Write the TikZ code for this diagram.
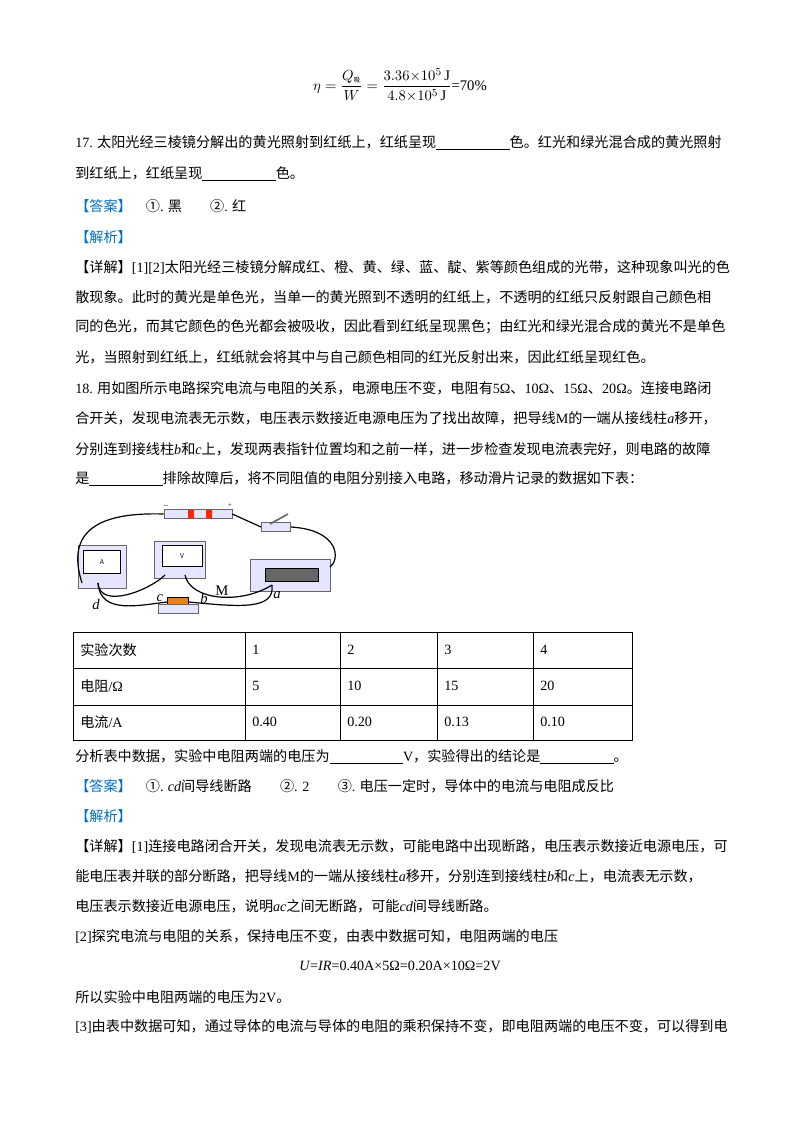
\documentclass[tikz,border=0pt]{standalone}
\usepackage{amsmath}
\usepackage{fontspec}
\setmainfont{Liberation Serif}
\newfontfamily\cjk{Noto Sans CJK SC}
\newcommand\R[1]{{\rmfamily #1}}
\newcommand\RI[1]{{\rmfamily\itshape #1}}
\begin{document}
\begin{tikzpicture}[x=0.75pt,y=-0.75pt,font=\cjk\fontsize{10.6}{12}\selectfont]
\tikzset{ln/.style={anchor=west,inner sep=0pt},
 dev/.style={draw=black!60,fill=blue!10,line width=0.4pt},
 wire/.style={line width=0.9pt},
 lab/.style={font=\rmfamily\fontsize{11}{12}\selectfont\itshape,inner sep=0pt}}
\definecolor{ans}{RGB}{0,112,192}
\useasboundingbox (0,0) rectangle (800,1132);
\fill[white] (0,0) rectangle (800,1132);
\node[inner sep=0pt] (f1) at (400,85) {\rmfamily\fontsize{11}{12}\selectfont $\eta=\dfrac{Q_{\text{\cjk\tiny 吸}}}{W}=\dfrac{3.36{\times}10^5\,\mathrm{J}}{4.8{\times}10^5\,\mathrm{J}}$=70\%};
\node[ln] (l1) at (75,143) {\R{17.} 太阳光经三棱镜分解出的黄光照射到红纸上，红纸呈现\underline{\hspace{55pt}}色。红光和绿光混合成的黄光照射};
\node[ln] (l2) at (75,174) {到红纸上，红纸呈现\underline{\hspace{55pt}}色。};
\node[ln] (l3) at (75,206) {\textcolor{ans}{【答案】}\quad ①\R{.} 黑\qquad ②\R{.} 红};
\node[ln] (l4) at (75,237) {\textcolor{ans}{【解析】}};
\node[ln] (l5) at (75,267) {【详解】\R{[1][2]}太阳光经三棱镜分解成红、橙、黄、绿、蓝、靛、紫等颜色组成的光带，这种现象叫光的色};
\node[ln] (l6) at (75,297) {散现象。此时的黄光是单色光，当单一的黄光照到不透明的红纸上，不透明的红纸只反射跟自己颜色相};
\node[ln] (l7) at (75,327) {同的色光，而其它颜色的色光都会被吸收，因此看到红纸呈现黑色；由红光和绿光混合成的黄光不是单色};
\node[ln] (l8) at (75,357) {光，当照射到红纸上，红纸就会将其中与自己颜色相同的红光反射出来，因此红纸呈现红色。};
\node[ln] (l9) at (75,388) {\R{18.} 用如图所示电路探究电流与电阻的关系，电源电压不变，电阻有\R{5Ω}、\R{10Ω}、\R{15Ω}、\R{20Ω}。连接电路闭};
\node[ln] (l10) at (75,418) {合开关，发现电流表无示数，电压表示数接近电源电压为了找出故障，把导线\R{M}的一端从接线柱\RI{a}移开，};
\node[ln] (l11) at (75,449) {分别连到接线柱\RI{b}和\RI{c}上，发现两表指针位置均和之前一样，进一步检查发现电流表完好，则电路的故障};
\node[ln] (l12) at (75,479) {是\underline{\hspace{55pt}}排除故障后，将不同阻值的电阻分别接入电路，移动滑片记录的数据如下表：};
% circuit
\node[dev,minimum width=51,minimum height=6] (bat) at (198,514) {};
\fill[red!70!orange] (188,510) rectangle (194,518) (206,510) rectangle (212,518);
\node[font=\tiny,inner sep=0] (bm) at (166,506) {$-$};
\node[font=\tiny,inner sep=0] (bp) at (230,506) {+};
\node[dev,minimum width=22,minimum height=5] (sw) at (276,527) {};
\draw[line width=1.2pt,black!60] (270,524) -- (288,514);
\node[dev,minimum width=36,minimum height=32] (am) at (102,567) {};
\node[draw,fill=white,minimum width=28,minimum height=17,inner sep=0] (amf) at (102,562) {\tiny A};
\node[dev,minimum width=38,minimum height=28] (vm) at (180,560) {};
\node[draw,fill=white,minimum width=30,minimum height=16,inner sep=0] (vmf) at (182,556) {\tiny V};
\node[dev,minimum width=60,minimum height=24] (rh) at (290,575) {};
\node[draw,fill=black!60,minimum width=40,minimum height=10] (coil) at (292,575) {};
\node[draw,fill=orange!70!brown,minimum width=16,minimum height=5] (res) at (178,602) {};
\node[dev,minimum width=30,minimum height=4] (resb) at (178,609) {};
\coordinate (amL) at (82,583); \coordinate (amM) at (98,583); \coordinate (vmL) at (165,575); \coordinate (vmR) at (185,575);
\coordinate (ra) at (272,585); \coordinate (rb) at (330,567);
\draw[wire] (bat.west) .. controls (100,512) and (65,530) .. (amL);
\draw[wire] (bat.east) -- (sw.west);
\draw[wire] (sw.east) .. controls (340,530) and (340,560) .. (rb);
\draw[wire] (amM) .. controls (100,610) and (150,590) .. (vmL);
\draw[wire] (vmR) .. controls (190,600) and (240,605) .. (ra);
\draw[wire] (amM) .. controls (100,615) and (140,605) .. (res.west);
\draw[wire] (res.east) .. controls (240,607) and (275,610) .. (ra);
\node[lab] (ld) at (96,604) {d};
\node[lab] (lc) at (160,598) {c};
\node[lab] (lb) at (204,598) {b};
\node[lab,font=\rmfamily\fontsize{11}{12}\selectfont] (lM) at (222,591) {M};
\node[lab] (la) at (277,595) {a};
% table
\draw[line width=0.5pt] (73,632) rectangle (632,740);
\foreach \y in {668,705} \draw[line width=0.5pt] (73,\y) -- (632,\y);
\foreach \x in {245,340,437,533} \draw[line width=0.5pt] (\x,632) -- (\x,740);
\node[ln] (t11) at (80,650) {实验次数};
\node[ln] (t12) at (252,650) {\R{1}}; \node[ln] (t13) at (347,650) {\R{2}}; \node[ln] (t14) at (444,650) {\R{3}}; \node[ln] (t15) at (540,650) {\R{4}};
\node[ln] (t21) at (80,686) {电阻\R{/Ω}};
\node[ln] (t22) at (252,686) {\R{5}}; \node[ln] (t23) at (347,686) {\R{10}}; \node[ln] (t24) at (444,686) {\R{15}}; \node[ln] (t25) at (540,686) {\R{20}};
\node[ln] (t31) at (80,722) {电流\R{/A}};
\node[ln] (t32) at (252,722) {\R{0.40}}; \node[ln] (t33) at (347,722) {\R{0.20}}; \node[ln] (t34) at (444,722) {\R{0.13}}; \node[ln] (t35) at (540,722) {\R{0.10}};
\node[ln] (m1) at (75,757) {分析表中数据，实验中电阻两端的电压为\underline{\hspace{55pt}}\R{V}，实验得出的结论是\underline{\hspace{55pt}}。};
\node[ln] (m2) at (75,786) {\textcolor{ans}{【答案】}\quad ①\R{.} \RI{cd}间导线断路\qquad ②\R{. 2}\qquad ③\R{.} 电压一定时，导体中的电流与电阻成反比};
\node[ln] (m3) at (75,816) {\textcolor{ans}{【解析】}};
\node[ln] (m4) at (75,846) {【详解】\R{[1]}连接电路闭合开关，发现电流表无示数，可能电路中出现断路，电压表示数接近电源电压，可};
\node[ln] (m5) at (75,876) {能电压表并联的部分断路，把导线\R{M}的一端从接线柱\RI{a}移开，分别连到接线柱\RI{b}和\RI{c}上，电流表无示数，};
\node[ln] (m6) at (75,906) {电压表示数接近电源电压，说明\RI{ac}之间无断路，可能\RI{cd}间导线断路。};
\node[ln] (m7) at (75,936) {\R{[2]}探究电流与电阻的关系，保持电压不变，由表中数据可知，电阻两端的电压};
\node[inner sep=0pt] (m8) at (400,966) {\rmfamily\textit{U}=\textit{IR}=0.40A×5Ω=0.20A×10Ω=2V};
\node[ln] (m9) at (75,997) {所以实验中电阻两端的电压为\R{2V}。};
\node[ln] (m10) at (75,1026) {\R{[3]}由表中数据可知，通过导体的电流与导体的电阻的乘积保持不变，即电阻两端的电压不变，可以得到电};
\end{tikzpicture}
\end{document}
